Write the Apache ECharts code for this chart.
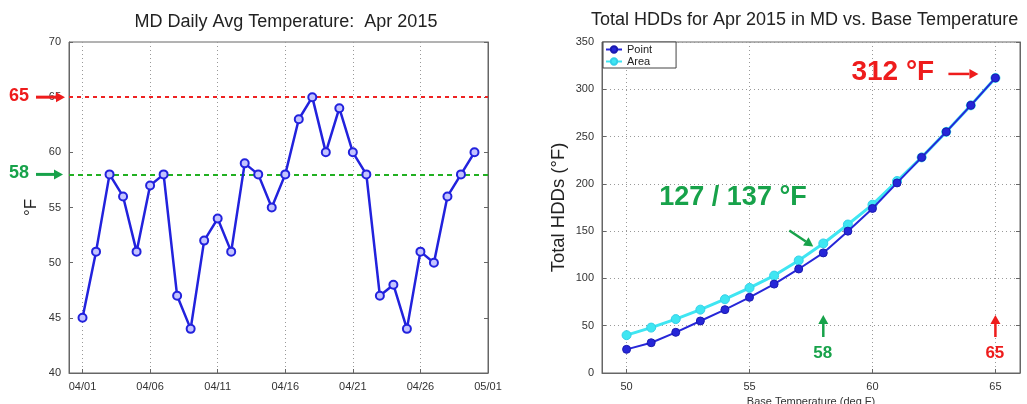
<!DOCTYPE html>
<html><head><meta charset="utf-8">
<script src="https://cdn.jsdelivr.net/npm/echarts@6/dist/echarts.min.js"></script>
<style>html,body{margin:0;padding:0;background:#fff;}#c{width:1027px;height:404px;}</style>
</head><body><div id="c"></div>
<script>
// ---- Data ----
const dayLabels = ['03/31','04/01','04/02','04/03','04/04','04/05','04/06','04/07','04/08','04/09','04/10',
  '04/11','04/12','04/13','04/14','04/15','04/16','04/17','04/18','04/19','04/20',
  '04/21','04/22','04/23','04/24','04/25','04/26','04/27','04/28','04/29','04/30','05/01'];
const dailyAvgTemp = [45,51,58,56,51,57,58,47,44,52,54,51,59,58,55,58,63,65,60,64,60,58,47,48,44,51,50,56,58,60];
const dateTicks = ['04/01','04/06','04/11','04/16','04/21','04/26','05/01'];
const baseLines = [65, 58];

const baseCategories = ['49','50','51','52','53','54','55','56','57','58','59','60','61','62','63','64','65','66'];
const baseTemps = [50,51,52,53,54,55,56,57,58,59,60,61,62,63,64,65];
const pointHDD = [25,32,43,55,67,80,94,110,127,150,174,201,228,255,283,312];
const areaHDD  = [40,48,57,67,78,90,103,119,137,157,178,203,228,255,283,312];
const baseTicks = ['50','55','60','65'];

const FONT = 'Liberation Sans, Arial, sans-serif';
const axisCol = '#666';
const chart = echarts.init(document.getElementById('c'), null, {renderer: 'canvas'});

const leftTickFn = (i, v) => dateTicks.indexOf(v) >= 0;
const rightTickFn = (i, v) => baseTicks.indexOf(v) >= 0;

const option = {
  animation: false,
  textStyle: {fontFamily: FONT},
  title: [
    {text: 'MD Daily Avg Temperature:  Apr 2015', left: 281, top: 8, textAlign: 'center',
     textStyle: {fontFamily: FONT, fontSize: 18, fontWeight: 'normal', color: '#222'}},
    {text: 'Total HDDs for Apr 2015 in MD vs. Base Temperature', left: 586, top: 6,
     textStyle: {fontFamily: FONT, fontSize: 18, fontWeight: 'normal', color: '#222'}}
  ],
  legend: {
    left: 603, top: 42, orient: 'vertical', data: ['Point', 'Area'],
    borderColor: '#444', borderWidth: 1, padding: [2, 24, 1, 2], itemGap: 1,
    itemWidth: 16, itemHeight: 8, textStyle: {fontSize: 11, color: '#222', fontFamily: FONT},
    backgroundColor: '#fff'
  },
  grid: [
    {left: 69, right: 539, top: 42, bottom: 31, show: true, borderColor: axisCol, borderWidth: 1,
     outerBoundsMode: 'none', containLabel: false},
    {left: 602, right: 7, top: 42, bottom: 31, show: true, borderColor: axisCol, borderWidth: 1,
     outerBoundsMode: 'none', containLabel: false}
  ],
  xAxis: [
    {type: 'category', gridIndex: 0, data: dayLabels, boundaryGap: false,
     axisLine: {lineStyle: {color: axisCol}},
     axisTick: {inside: true, length: 4, interval: leftTickFn, lineStyle: {color: axisCol}},
     axisLabel: {interval: leftTickFn, fontSize: 11, color: '#333', margin: 8},
     splitLine: {show: true, interval: leftTickFn, lineStyle: {type: [1, 3], color: '#999'}}},
    {type: 'category', gridIndex: 1, data: baseCategories, boundaryGap: false,
     name: 'Base Temperature (deg F)', nameLocation: 'middle', nameGap: 22,
     nameTextStyle: {fontSize: 11, color: '#333'},
     axisLine: {lineStyle: {color: axisCol}},
     axisTick: {inside: true, length: 4, interval: rightTickFn, lineStyle: {color: axisCol}},
     axisLabel: {interval: rightTickFn, fontSize: 11, color: '#333', margin: 8},
     splitLine: {show: true, interval: rightTickFn, lineStyle: {type: [1, 3], color: '#999'}}}
  ],
  yAxis: [
    {type: 'value', gridIndex: 0, min: 40, max: 70, interval: 5,
     name: '°F', nameLocation: 'middle', nameGap: 29, nameRotate: 90,
     nameTextStyle: {fontSize: 17, color: '#222'},
     axisLine: {show: true, lineStyle: {color: axisCol}},
     axisTick: {show: true, inside: true, length: 4, lineStyle: {color: axisCol}},
     axisLabel: {fontSize: 11, color: '#333', margin: 8},
     splitLine: {show: false}},
    {type: 'value', gridIndex: 1, min: 0, max: 350, interval: 50,
     name: 'Total HDDs (°F)', nameLocation: 'middle', nameGap: 34, nameRotate: 90,
     nameTextStyle: {fontSize: 18.5, color: '#222'},
     axisLine: {show: true, lineStyle: {color: axisCol}},
     axisTick: {show: true, inside: true, length: 4, lineStyle: {color: axisCol}},
     axisLabel: {fontSize: 11, color: '#333', margin: 8},
     splitLine: {show: true, lineStyle: {type: [1, 3], color: '#999'}}},
    {type: 'value', gridIndex: 0, position: 'right', min: 40, max: 70, interval: 5,
     axisLine: {show: true, lineStyle: {color: axisCol}},
     axisTick: {show: true, inside: true, length: 4, lineStyle: {color: axisCol}},
     axisLabel: {show: false}, splitLine: {show: false}},
    {type: 'value', gridIndex: 1, position: 'right', min: 0, max: 350, interval: 50,
     axisLine: {show: true, lineStyle: {color: axisCol}},
     axisTick: {show: true, inside: true, length: 4, lineStyle: {color: axisCol}},
     axisLabel: {show: false}, splitLine: {show: false}}
  ],
  series: [
    {type: 'line', name: 'Temp', xAxisIndex: 0, yAxisIndex: 0,
     data: dailyAvgTemp.map((t, i) => [dayLabels[i + 1], t]),
     lineStyle: {color: '#2222dd', width: 2.5},
     symbol: 'circle', symbolSize: 8,
     itemStyle: {color: '#c4c4ff', borderColor: '#2222dd', borderWidth: 2},
     z: 5,
     markLine: {silent: true, symbol: 'none', label: {show: false},
       data: [
         {yAxis: baseLines[0], lineStyle: {color: '#ee2222', type: [4, 4], width: 2}},
         {yAxis: baseLines[1], lineStyle: {color: '#22b022', type: [5, 4], width: 2}}
       ]}},
    {type: 'line', name: 'Area', xAxisIndex: 1, yAxisIndex: 1,
     data: baseTemps.map((b, i) => [String(b), areaHDD[i]]),
     lineStyle: {color: '#3fe6f2', width: 3},
     symbol: 'circle', symbolSize: 9,
     itemStyle: {color: '#3fe6f2', borderColor: '#33d0e8', borderWidth: 1}, z: 3},
    {type: 'line', name: 'Point', xAxisIndex: 1, yAxisIndex: 1,
     data: baseTemps.map((b, i) => [String(b), pointHDD[i]]),
     lineStyle: {color: '#2626d8', width: 2},
     symbol: 'circle', symbolSize: 8,
     itemStyle: {color: '#2626d8', borderColor: '#1a1ab0', borderWidth: 1}, z: 4}
  ]
};
chart.setOption(option);

// ---- Annotations positioned from the axes ----
const L = (x, y) => chart.convertToPixel({xAxisIndex: 0, yAxisIndex: 0}, [x, y]);
const R = (x, y) => chart.convertToPixel({xAxisIndex: 1, yAxisIndex: 1}, [x, y]);
const red = '#ee1c1c', green = '#17a24a';
function arrow(x1, y1, x2, y2, color, w) {
  const ang = Math.atan2(y2 - y1, x2 - x1), hl = 9, hw = 5;
  const bx = x2 - hl * Math.cos(ang), by = y2 - hl * Math.sin(ang);
  const px = -Math.sin(ang) * hw, py = Math.cos(ang) * hw;
  return [
    {type: 'line', shape: {x1: x1, y1: y1, x2: bx, y2: by}, style: {stroke: color, lineWidth: w}, z: 100},
    {type: 'polygon', shape: {points: [[x2, y2], [bx + px, by + py], [bx - px, by - py]]}, style: {fill: color}, z: 100}
  ];
}
const p65 = L('03/31', baseLines[0]);
const p58 = L('03/31', baseLines[1]);
const gx58 = R('58', 0), gx65 = R('65', 0);
const pt312 = R('65', pointHDD[15]);
const pt137 = R('58', areaHDD[8]);
const g = [];
g.push({type: 'text', left: 9, top: p65[1] - 10, style: {text: '65', fill: red, font: 'bold 18px ' + FONT}, z: 100});
g.push(...arrow(36, p65[1], p65[0] - 4, p65[1], red, 3));
g.push({type: 'text', left: 9, top: p58[1] - 10, style: {text: '58', fill: green, font: 'bold 18px ' + FONT}, z: 100});
g.push(...arrow(36, p58[1], p58[0] - 6, p58[1], green, 3));
g.push({type: 'text', left: pt312[0] - 144, top: pt312[1] - 20, style: {text: '312 °F', fill: red, font: 'bold 28px ' + FONT}, z: 100});
g.push(...arrow(pt312[0] - 47, pt312[1] - 4, pt312[0] - 17, pt312[1] - 4, red, 2.5));
g.push({type: 'text', left: pt137[0] - 164, top: pt137[1] - 59, style: {text: '127 / 137 °F', fill: green, font: 'bold 27px ' + FONT}, z: 100});
g.push(...arrow(pt137[0] - 34, pt137[1] - 13, pt137[0] - 10, pt137[1] + 3, green, 2.5));
[[gx58, '58', green], [gx65, '65', red]].forEach(([p, t, c]) => {
  g.push(...arrow(p[0], p[1] - 36, p[0], p[1] - 58, c, 2.5));
  g.push({type: 'text', left: p[0] - 10, top: p[1] - 28, style: {text: t, fill: c, font: 'bold 17px ' + FONT}, z: 100});
});
chart.setOption({graphic: g});
</script>
</body></html>
